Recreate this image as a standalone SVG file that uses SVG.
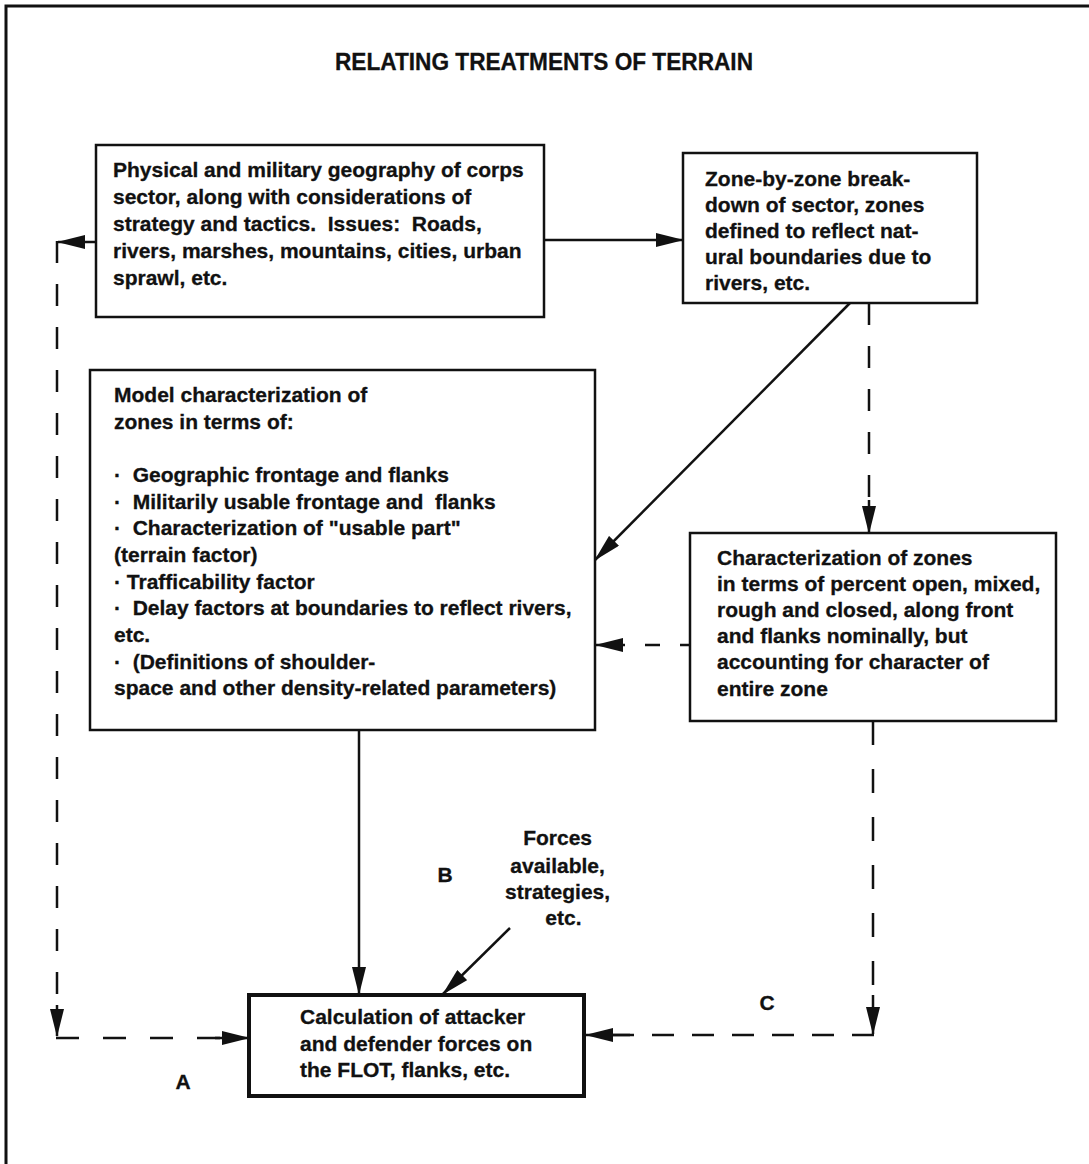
<svg xmlns="http://www.w3.org/2000/svg" width="1089" height="1164" viewBox="0 0 1089 1164">
  <style>
    .frame { fill: none; stroke: #111; stroke-width: 3; }
    .box { fill: #fff; stroke: #111; stroke-width: 2.5; }
    .box.heavy { stroke-width: 4; }
    .t { font-family: "Liberation Sans", Arial, sans-serif; font-weight: bold; font-size: 21px; fill: #111; stroke: #111; stroke-width: 0.3; white-space: pre; }
    .title { font-size: 24px; }
    .solid { fill: none; stroke: #111; stroke-width: 2.5; }
    .dash { fill: none; stroke: #111; stroke-width: 2.5; stroke-dasharray: 22 21; }
  </style>
  <defs>
    <marker id="arrow" markerUnits="userSpaceOnUse" markerWidth="28" markerHeight="14" refX="27" refY="7" orient="auto" viewBox="0 0 28 14">
      <path d="M0,0 L28,7 L0,14 Z" fill="#111"/>
    </marker>
  </defs>

  <rect width="1089" height="1164" fill="#fff"/>
  <path class="frame" d="M6 1164 V6 H1089"/>

  <text class="t title" x="544" y="70" text-anchor="middle" textLength="418" lengthAdjust="spacingAndGlyphs">RELATING TREATMENTS OF TERRAIN</text>

  <g id="connectors">
    <!-- geography -> zone breakdown -->
    <line class="solid" x1="544" y1="240" x2="683" y2="240" marker-end="url(#arrow)"/>
    <!-- geography -> left side return (A) -->
    <line class="solid" x1="96" y1="242" x2="58" y2="242" marker-end="url(#arrow)"/>
    <path class="dash" d="M57 241 V1010"/>
    <line class="solid" x1="57" y1="1005" x2="57" y2="1036" marker-end="url(#arrow)"/>
    <path class="dash" style="stroke-dasharray: 23 24" d="M56 1038 H225"/>
    <line class="solid" x1="215" y1="1038" x2="249" y2="1038" marker-end="url(#arrow)"/>
    <!-- zone breakdown -> model characterization -->
    <line class="solid" x1="850" y1="303" x2="595" y2="560" marker-end="url(#arrow)"/>
    <!-- zone breakdown -> terrain-type characterization -->
    <path class="dash" d="M869 303 V500"/>
    <line class="solid" x1="869" y1="500" x2="869" y2="533" marker-end="url(#arrow)"/>
    <!-- terrain-type characterization -> model characterization -->
    <path class="dash" style="stroke-dasharray: 10 20 15 20 60" d="M690 645 H596" marker-end="url(#arrow)"/>
    <!-- model characterization -> calculation (B) -->
    <line class="solid" x1="359" y1="730" x2="359" y2="994" marker-end="url(#arrow)"/>
    <!-- forces available -> calculation -->
    <line class="solid" x1="510" y1="928" x2="443" y2="994" marker-end="url(#arrow)"/>
    <!-- terrain-type characterization -> calculation (C) -->
    <path class="dash" style="stroke-dasharray: 24 24" d="M873 721 V1000"/>
    <line class="solid" x1="873" y1="995" x2="873" y2="1034" marker-end="url(#arrow)"/>
    <path class="dash" style="stroke-dasharray: 22 18" d="M874 1035 H610"/>
    <line class="solid" x1="630" y1="1035" x2="586" y2="1035" marker-end="url(#arrow)"/>
  </g>

  <g id="geography">
    <rect class="box" x="96" y="145" width="448" height="172"/>
    <text class="t">
      <tspan x="113" y="177">Physical and military geography of corps</tspan>
      <tspan x="113" y="204">sector, along with considerations of</tspan>
      <tspan x="113" y="231">strategy and tactics.  Issues:  Roads,</tspan>
      <tspan x="113" y="258">rivers, marshes, mountains, cities, urban</tspan>
      <tspan x="113" y="285">sprawl, etc.</tspan>
    </text>
  </g>

  <g id="zone-breakdown">
    <rect class="box" x="683" y="153" width="294" height="150"/>
    <text class="t">
      <tspan x="705" y="186">Zone-by-zone break-</tspan>
      <tspan x="705" y="212">down of sector, zones</tspan>
      <tspan x="705" y="238">defined to reflect nat-</tspan>
      <tspan x="705" y="264">ural boundaries due to</tspan>
      <tspan x="705" y="290">rivers, etc.</tspan>
    </text>
  </g>

  <g id="model-characterization">
    <rect class="box" x="90" y="370" width="505" height="360"/>
    <text class="t">
      <tspan x="114" y="402">Model characterization of</tspan>
      <tspan x="114" y="429">zones in terms of:</tspan>
      <tspan x="114" y="482">·  Geographic frontage and flanks</tspan>
      <tspan x="114" y="509">·  Militarily usable frontage and  flanks</tspan>
      <tspan x="114" y="535">·  Characterization of "usable part"</tspan>
      <tspan x="114" y="562">(terrain factor)</tspan>
      <tspan x="114" y="589">· Trafficability factor</tspan>
      <tspan x="114" y="615">·  Delay factors at boundaries to reflect rivers,</tspan>
      <tspan x="114" y="642">etc.</tspan>
      <tspan x="114" y="669">·  (Definitions of shoulder-</tspan>
      <tspan x="114" y="695">space and other density-related parameters)</tspan>
    </text>
  </g>

  <g id="terrain-type">
    <rect class="box" x="690" y="533" width="366" height="188"/>
    <text class="t">
      <tspan x="717" y="565">Characterization of zones</tspan>
      <tspan x="717" y="591">in terms of percent open, mixed,</tspan>
      <tspan x="717" y="617">rough and closed, along front</tspan>
      <tspan x="717" y="643">and flanks nominally, but</tspan>
      <tspan x="717" y="669">accounting for character of</tspan>
      <tspan x="717" y="696">entire zone</tspan>
    </text>
  </g>

  <g id="forces-available">
    <text class="t" text-anchor="middle">
      <tspan x="578" y="845">Forces</tspan>
      <tspan x="578" y="873">available,</tspan>
      <tspan x="578" y="899">strategies,</tspan>
      <tspan x="578" y="925">etc.</tspan>
    </text>
  </g>

  <g id="calculation">
    <rect class="box heavy" x="249" y="995" width="335" height="101"/>
    <text class="t">
      <tspan x="300" y="1024">Calculation of attacker</tspan>
      <tspan x="300" y="1051">and defender forces on</tspan>
      <tspan x="300" y="1077">the FLOT, flanks, etc.</tspan>
    </text>
  </g>

  <g id="labels">
    <text class="t" x="183" y="1089" text-anchor="middle">A</text>
    <text class="t" x="445" y="882" text-anchor="middle">B</text>
    <text class="t" x="767" y="1010" text-anchor="middle">C</text>
  </g>
</svg>
